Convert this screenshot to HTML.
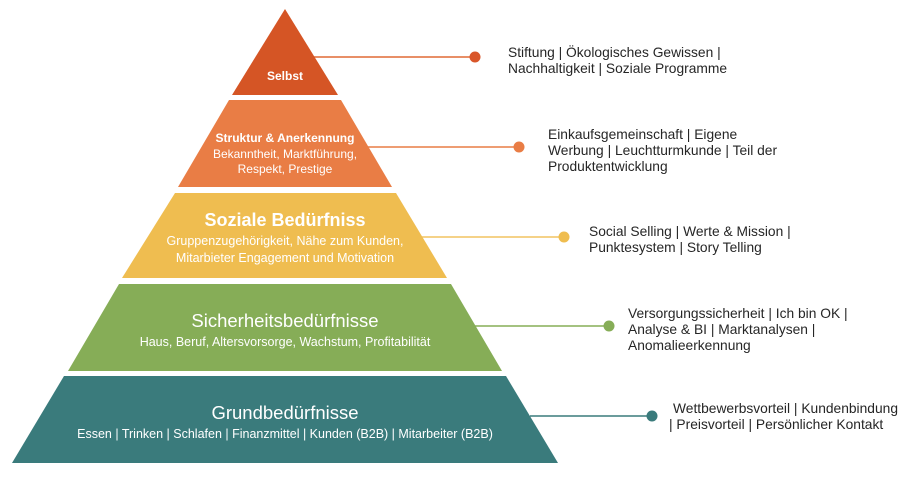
<!DOCTYPE html>
<html><head><meta charset="utf-8"><style>
html,body{margin:0;padding:0;background:#fff;}
svg{display:block;}
.w{fill:#fff;font-family:"Liberation Sans",sans-serif;text-anchor:middle;}
.r{fill:#262626;font-family:"Liberation Sans",sans-serif;font-size:13.8px;}
</style></head><body>
<svg width="908" height="477" viewBox="0 0 908 477" xmlns="http://www.w3.org/2000/svg">
<line x1="310" y1="57" x2="475" y2="57" stroke="#e06a35" stroke-width="1.5"/>
<circle cx="475" cy="57" r="5.5" fill="#d9562a"/>
<line x1="366" y1="147" x2="519" y2="147" stroke="#e97d45" stroke-width="1.5"/>
<circle cx="519" cy="147" r="5.5" fill="#e97d45"/>
<line x1="410" y1="237" x2="564" y2="237" stroke="#f2c460" stroke-width="1.5"/>
<circle cx="564" cy="237" r="5.5" fill="#efbd50"/>
<line x1="470" y1="326" x2="609" y2="326" stroke="#86ad57" stroke-width="1.5"/>
<circle cx="609" cy="326" r="5.5" fill="#86ad57"/>
<line x1="530" y1="416" x2="652" y2="416" stroke="#3a7b7c" stroke-width="1.5"/>
<circle cx="652" cy="416" r="5.5" fill="#3a7b7c"/>
<polygon points="285,9 338,95 232,95" fill="#d55525"/>
<polygon points="229,100 341,100 392,187 178,187" fill="#e97d45"/>
<polygon points="175,193 396,193 447,278 122,278" fill="#efbd50"/>
<polygon points="119,284 451,284 502,371 68,371" fill="#86ad57"/>
<polygon points="64,376 506,376 558,463 12,463" fill="#3a7b7c"/>
<text class="w" x="285" y="80" font-size="12" font-weight="bold">Selbst</text>
<text class="w" x="285" y="142" font-size="12" font-weight="bold">Struktur &amp; Anerkennung</text>
<text class="w" x="285" y="158" font-size="12">Bekanntheit, Marktführung,</text>
<text class="w" x="285" y="173" font-size="12">Respekt, Prestige</text>
<text class="w" x="285" y="226" font-size="18" font-weight="bold">Soziale Bedürfniss</text>
<text class="w" x="285" y="245" font-size="12.5">Gruppenzugehörigkeit, Nähe zum Kunden,</text>
<text class="w" x="285" y="262" font-size="12.5">Mitarbieter Engagement und Motivation</text>
<text class="w" x="285" y="327" font-size="18.5">Sicherheitsbedürfnisse</text>
<text class="w" x="285" y="346" font-size="12.5">Haus, Beruf, Altersvorsorge, Wachstum, Profitabilität</text>
<text class="w" x="285" y="419" font-size="18.5">Grundbedürfnisse</text>
<text class="w" x="285" y="438" font-size="12.5">Essen | Trinken | Schlafen | Finanzmittel | Kunden (B2B) | Mitarbeiter (B2B)</text>
<text class="r" x="508" y="57">Stiftung | Ökologisches Gewissen |</text>
<text class="r" x="508" y="73">Nachhaltigkeit | Soziale Programme</text>
<text class="r" x="548" y="139">Einkaufsgemeinschaft | Eigene</text>
<text class="r" x="548" y="155">Werbung | Leuchtturmkunde | Teil der</text>
<text class="r" x="548" y="171">Produktentwicklung</text>
<text class="r" x="589" y="236">Social Selling | Werte &amp; Mission |</text>
<text class="r" x="589" y="252">Punktesystem | Story Telling</text>
<text class="r" x="628" y="318">Versorgungssicherheit | Ich bin OK |</text>
<text class="r" x="628" y="334">Analyse &amp; BI | Marktanalysen |</text>
<text class="r" x="628" y="350">Anomalieerkennung</text>
<text class="r" x="673" y="413">Wettbewerbsvorteil | Kundenbindung</text>
<text class="r" x="669" y="429">| Preisvorteil | Persönlicher Kontakt</text>
</svg>
</body></html>
